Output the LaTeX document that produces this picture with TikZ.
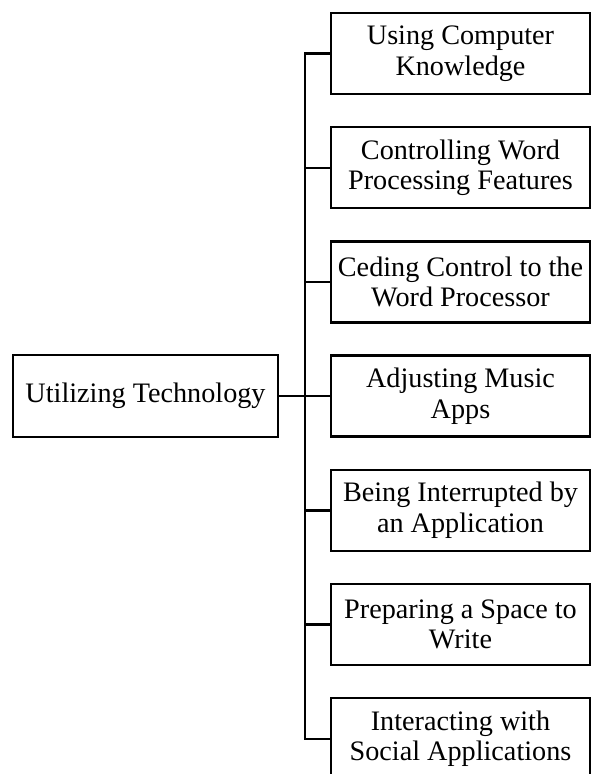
\documentclass[tikz,border=0pt]{standalone}
\usepackage{fontspec}
\setmainfont{Liberation Serif}
\begin{document}
\begin{tikzpicture}[x=1pt,y=-1pt,
  box/.style={draw, line width=2.4pt, rectangle, align=center, inner sep=0pt,
    font=\fontsize{28.2}{30.5}\selectfont},
  leaf/.style={box, minimum width=259pt, minimum height=81pt},
  root/.style={box, minimum width=265pt, minimum height=82pt},
  link/.style={draw, line width=2.4pt, line cap=rect}]
\useasboundingbox (0,0) rectangle (591,774);
\node[root] (r) at (145.5,396) {Utilizing Technology};
\node[leaf] (b1) at (460.5,53.5) {Using Computer\\Knowledge};
\node[leaf] (b2) at (460.5,167.7) {Controlling Word\\Processing Features};
\node[leaf] (b3) at (460.5,281.9) {Ceding Control to the\\Word Processor};
\node[leaf] (b4) at (460.5,396.1) {Adjusting Music\\Apps};
\node[leaf] (b5) at (460.5,510.3) {Being Interrupted by\\an Application};
\node[leaf] (b6) at (460.5,624.5) {Preparing a Space to\\Write};
\node[leaf] (b7) at (460.5,738.7) {Interacting with\\Social Applications};
\coordinate (top) at (305,53.5);
\coordinate (bot) at (305,738.7);
\coordinate (mid) at (305,396);
\draw[link] (top) -- (bot);
\draw[link] (r.east) -- (mid);
\foreach \b in {b1,b2,b3,b4,b5,b6,b7}{
  \draw[link] (\b.west) -- (\b.west -| mid);
}
\end{tikzpicture}
\end{document}
